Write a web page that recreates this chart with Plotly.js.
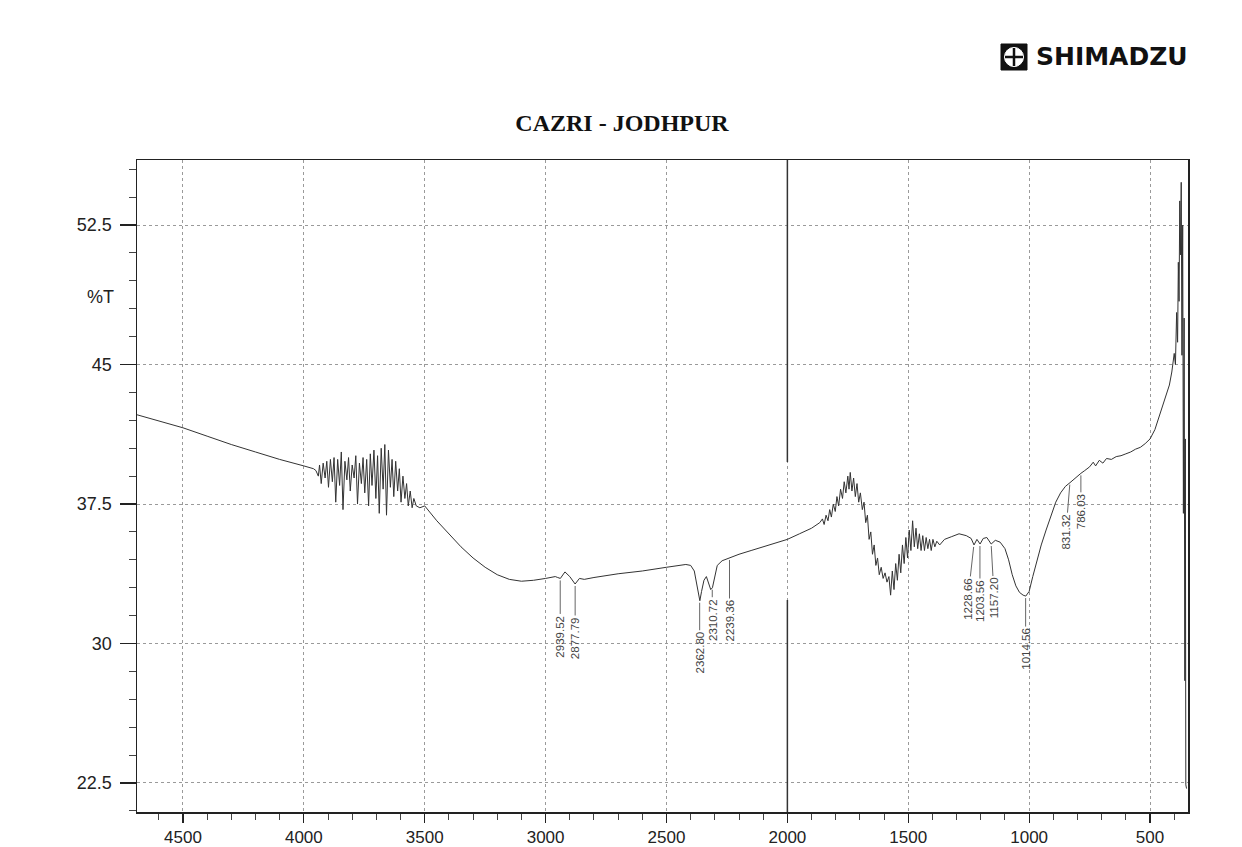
<!DOCTYPE html>
<html>
<head>
<meta charset="utf-8">
<script src="https://cdn.plot.ly/plotly-3.0.1.min.js"></script>
<style>html,body{margin:0;padding:0;background:#fff;}#chart{width:1242px;height:847px;}</style>
</head>
<body>
<div id="chart"></div>
<script>
// ---- Data ----
const wavenumber = [
  4690, 4600, 4500, 4400, 4300, 4200, 4100, 4000, 3960,
  3950, 3940, 3935, 3928, 3920, 3912, 3905, 3898, 3890, 3882, 3875, 3868, 3860, 3852, 3845, 3838,
  3830, 3822, 3815, 3808, 3800, 3792, 3785, 3778, 3770, 3762, 3755, 3748, 3740, 3732, 3725, 3718,
  3710, 3702, 3695, 3688, 3680, 3672, 3665, 3658, 3650, 3642, 3635, 3628, 3620, 3612, 3605, 3598,
  3590, 3582, 3575, 3568, 3560, 3552, 3545, 3535, 3520,
  3500, 3450, 3400, 3350, 3300, 3250, 3200, 3150, 3100, 3050, 3000, 2960, 2950, 2939, 2920, 2900,
  2878, 2860, 2840, 2800, 2700, 2600, 2500, 2420, 2400, 2385, 2375, 2368, 2362, 2355, 2345, 2335,
  2325, 2317, 2310, 2300, 2290, 2270, 2250, 2239, 2200, 2150, 2100, 2050, 2000, 1950, 1900, 1866,
  1855, 1848, 1840, 1832, 1825, 1818, 1810, 1802, 1795, 1788, 1780, 1772, 1765, 1758, 1750, 1745,
  1740, 1733, 1726, 1719, 1712, 1705, 1698, 1690, 1683, 1676, 1669, 1662, 1655, 1648, 1641, 1634,
  1627, 1620, 1612, 1604, 1596, 1588, 1580, 1573, 1566, 1559, 1552, 1545, 1538, 1531, 1524, 1517,
  1510, 1503, 1496, 1489, 1482, 1475, 1468, 1461, 1454, 1447, 1440, 1433, 1426, 1419, 1412, 1405,
  1398, 1390, 1382, 1370,
  1350, 1320, 1290, 1260, 1240, 1228, 1216, 1203, 1190, 1175, 1157, 1140, 1120, 1100, 1085, 1070,
  1055, 1040, 1025, 1014, 1000, 985, 970, 950, 930, 910, 890, 870, 850, 831, 810, 786,
  770, 750, 735, 725, 710, 695, 680, 660, 640, 620, 600, 580, 560, 540, 520, 500,
  480, 470, 460, 450, 440, 430, 420, 410, 400, 395, 390, 386, 383, 380, 377, 374,
  371, 368, 365, 362, 359, 356, 354, 352, 349
];
const transmittance = [
  42.3, 41.95, 41.6, 41.15, 40.7, 40.3, 39.9, 39.55, 39.4,
  39.3, 39.0, 39.6, 38.6, 39.7, 38.9, 39.8, 38.4, 39.9, 38.7, 40.0, 37.6, 39.9, 38.5, 40.3, 37.2,
  39.8, 38.8, 40.0, 38.2, 39.6, 38.9, 40.1, 37.5, 39.7, 38.6, 40.0, 38.1, 39.9, 37.4, 40.2, 38.5,
  40.4, 37.8, 40.1, 37.0, 40.5, 38.3, 40.7, 36.9, 40.4, 38.4, 39.9, 37.9, 39.8, 38.2, 39.4, 37.6,
  39.0, 37.8, 38.6, 37.4, 38.2, 37.3, 37.8, 37.4, 37.3,
  37.4, 36.6, 35.9, 35.2, 34.6, 34.1, 33.7, 33.45, 33.35, 33.4, 33.5, 33.6, 33.55, 33.5, 33.85, 33.6,
  33.2, 33.5, 33.45, 33.55, 33.75, 33.9, 34.1, 34.25, 34.2, 33.9, 33.2, 32.6, 32.3, 32.8, 33.4, 33.6,
  33.2, 32.9, 33.0, 33.7, 34.2, 34.45, 34.55, 34.6, 34.8, 35.0, 35.2, 35.4, 35.6, 35.9, 36.2, 36.5,
  36.7, 36.4, 36.9, 36.6, 37.2, 36.8, 37.5, 37.1, 37.9, 37.4, 38.3, 37.8, 38.7, 38.1, 39.0, 38.3,
  39.2, 38.2, 38.9, 37.9, 38.6, 37.6, 38.1, 37.2, 37.6, 36.5, 36.9, 35.6, 36.0, 34.8, 35.3, 34.2,
  34.6, 33.7, 34.1, 33.5, 33.8, 33.3, 33.6, 32.6, 33.9, 32.9, 34.3, 33.4, 34.8, 33.8, 35.3, 34.3,
  35.7, 34.6, 36.1, 35.0, 36.6, 35.2, 36.2, 35.1, 35.9, 35.0, 35.8, 35.0, 35.7, 35.1, 35.6, 35.0,
  35.6, 35.2, 35.5, 35.3,
  35.6, 35.75, 35.9, 35.8, 35.65, 35.3, 35.6, 35.35, 35.65, 35.7, 35.35, 35.55, 35.45, 35.1, 34.5, 33.7,
  33.1, 32.75, 32.6, 32.55, 32.8, 33.6, 34.4, 35.3, 36.1, 36.9, 37.6, 38.1, 38.45, 38.65, 38.9, 39.15,
  39.3, 39.5, 39.75, 39.55, 39.85, 39.7, 39.95, 39.9, 40.05, 40.1, 40.2, 40.3, 40.45, 40.55, 40.75, 41.0,
  41.5, 41.9, 42.3, 42.7, 43.1, 43.4, 43.9, 44.6, 45.6, 45.0, 47.8, 46.2, 50.5, 48.4, 53.8, 50.9,
  54.8, 45.5, 52.5, 37.0, 47.5, 28.0, 41.0, 22.4, 22.2
];
const peakWavenumber = [2939.52, 2877.79, 2362.80, 2310.72, 2239.36, 1228.66, 1203.56, 1157.20, 1014.56, 831.32, 786.03];
const peakTransmittance = [33.5, 33.2, 32.3, 33.0, 34.6, 35.3, 35.35, 35.35, 32.55, 38.65, 39.15];
const xTickValues = [4500, 4000, 3500, 3000, 2500, 2000, 1500, 1000, 500];
const yTickValues = [22.5, 30, 37.5, 45, 52.5];

// ---- Layout helpers (pixel -> paper) ----
const L = 137, R = 1188, T = 160, B = 812;
const px = x => (x - L) / (R - L);
const py = y => (B - y) / (B - T);

const labelOffsetsY = [58, 54, 52, 32, 63, 54, 57, 54, 53, 49, 38];
const labelOffsetsX = [0, 0, 0, 0, 0, -6, 0, 3, 0, -4, 0];

const annotations = peakWavenumber.map((w, i) => ({
  x: w, y: peakTransmittance[i], xref: 'x', yref: 'y',
  text: w.toFixed(2), textangle: -90,
  showarrow: true, arrowhead: 0, arrowwidth: 1, arrowcolor: '#666',
  ax: labelOffsetsX[i], ay: labelOffsetsY[i], standoff: 2,
  font: {family: 'Liberation Sans, Arial, sans-serif', size: 11.5, color: '#444'}
}));

annotations.push({
  xref: 'paper', yref: 'paper', x: px(100), y: py(297),
  text: '%T', showarrow: false, xanchor: 'center', yanchor: 'middle',
  font: {family: 'Liberation Sans, Arial, sans-serif', size: 18, color: '#222'}
});
annotations.push({
  xref: 'paper', yref: 'paper', x: px(1190), y: py(57),
  text: '<b>SHIMADZU</b>', showarrow: false, xanchor: 'right', yanchor: 'middle',
  font: {family: 'DejaVu Sans, sans-serif', size: 25, color: '#111'}
});

const shapes = [
  // logo icon
  {type: 'rect', xref: 'paper', yref: 'paper', x0: px(1001), x1: px(1027), y0: py(70), y1: py(44),
   fillcolor: '#111', line: {color: '#111', width: 1}},
  {type: 'circle', xref: 'paper', yref: 'paper', x0: px(1004.5), x1: px(1023.5), y0: py(66.5), y1: py(47.5),
   fillcolor: '#fff', line: {color: '#fff', width: 1}},
  {type: 'line', xref: 'paper', yref: 'paper', x0: px(1014), x1: px(1014), y0: py(66), y1: py(48),
   line: {color: '#111', width: 2.5}},
  {type: 'line', xref: 'paper', yref: 'paper', x0: px(1005), x1: px(1023), y0: py(57), y1: py(57),
   line: {color: '#111', width: 2.5}},
  // dark fold line on the chart paper at 2000
  {type: 'line', xref: 'x', yref: 'paper', x0: 2000, x1: 2000, y0: py(462), y1: 1,
   line: {color: '#333', width: 1.5}},
  {type: 'line', xref: 'x', yref: 'paper', x0: 2000, x1: 2000, y0: 0, y1: py(600),
   line: {color: '#333', width: 1.5}}
];

const trace = {
  x: wavenumber, y: transmittance, type: 'scatter', mode: 'lines',
  line: {color: '#333', width: 1}, hoverinfo: 'x+y'
};

const layout = {
  width: 1242, height: 847,
  margin: {l: L, r: 1242 - R, t: T, b: 847 - B, pad: 0},
  paper_bgcolor: '#fff', plot_bgcolor: '#fff',
  showlegend: false,
  title: {
    text: '<b>CAZRI - JODHPUR</b>',
    font: {family: 'Liberation Serif, Times New Roman, serif', size: 24, color: '#111'},
    xref: 'container', yref: 'container', x: 622 / 1242, y: 1 - 123 / 847,
    xanchor: 'center', yanchor: 'middle'
  },
  xaxis: {
    range: [4690, 343],
    tickmode: 'array', tickvals: xTickValues, ticktext: xTickValues.map(String),
    ticks: 'outside', ticklen: 9, tickwidth: 1.3, tickcolor: '#222',
    ticklabelstandoff: 0,
    minor: {dtick: 100, tick0: 0, ticks: 'outside', ticklen: 6, tickwidth: 1, tickcolor: '#444', showgrid: false},
    showgrid: true, gridcolor: '#9a9a9a', griddash: 'dot', gridwidth: 1,
    showline: true, linecolor: '#222', linewidth: 1.5, mirror: true,
    zeroline: false, tickfont: {family: 'Liberation Sans, Arial, sans-serif', size: 17, color: '#222'}
  },
  yaxis: {
    range: [20.94, 56],
    tickmode: 'array', tickvals: yTickValues, ticktext: yTickValues.map(String),
    ticks: 'outside', ticklen: 16, tickwidth: 1.3, tickcolor: '#222',
    ticklabelstandoff: 4,
    minor: {dtick: 1.5, tick0: 22.5, ticks: 'outside', ticklen: 7, tickwidth: 1, tickcolor: '#444', showgrid: false},
    showgrid: true, gridcolor: '#9a9a9a', griddash: 'dot', gridwidth: 1,
    showline: true, linecolor: '#222', linewidth: 1.5, mirror: true,
    zeroline: false, tickfont: {family: 'Liberation Sans, Arial, sans-serif', size: 18, color: '#222'}
  },
  annotations: annotations,
  shapes: shapes
};

Plotly.newPlot('chart', [trace], layout, {staticPlot: true, displayModeBar: false});
</script>
</body>
</html>
